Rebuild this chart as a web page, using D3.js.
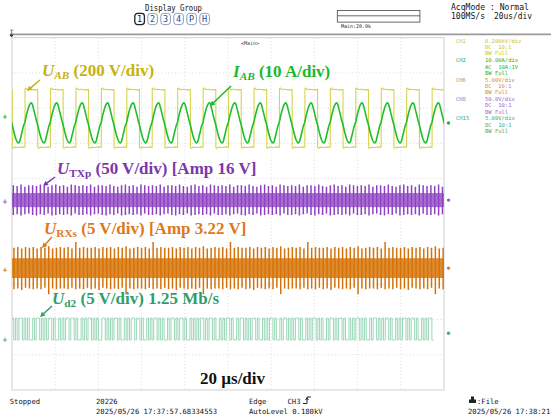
<!DOCTYPE html>
<html>
<head>
<meta charset="utf-8">
<script src="https://cdn.jsdelivr.net/npm/d3@7"></script>
<style>
body { margin: 0; background: #fff; }
svg { display: block; }
</style>
</head>
<body>
<div id="scope"></div>
<script>
var width = 551, height = 418;

// time base 20 us/div, 10 divisions
var timeGrid = [20, 40, 60, 80, 100, 120, 140, 160, 180];
var divGrid = [-4, -3, -2, -1, 0, 1, 2, 3, 4];

// CH1  U_AB square wave (V), one cycle as [phase, value]
var uabPeriod = 11.78, uabFirstRise = 6.0, uabPos = 2.71, uabVdiv = 200;
var uabCycle = [[0, -158], [0.003, 168], [0.04, 172], [0.09, 163], [0.2, 165], [0.35, 162], [0.497, 163],
                [0.5, 160], [0.503, -166], [0.54, -170], [0.6, -163], [0.75, -165], [0.9, -162], [0.997, -163]];

// CH2  I_AB (A)
var iabPos = 2.58, iabAdiv = 10;
var iabCycle = [[0, 0.3], [0.05, 2.0], [0.1, 3.4], [0.15, 4.6], [0.2, 5.4], [0.25, 5.7], [0.29, 5.3],
                [0.33, 4.2], [0.38, 2.8], [0.44, 1.0], [0.5, -0.6], [0.55, -2.1], [0.6, -3.5],
                [0.65, -4.7], [0.7, -5.4], [0.75, -5.7], [0.79, -5.3], [0.83, -4.2], [0.88, -2.7], [0.94, -0.9]];

// CH8  U_TXp (V): core band and spike peaks
var txpPos = 0.39, txpVdiv = 50, txpCore = 10, txpSpikePeriod = 1.79, txpFirst = 0.6;
var txpSpikes = [21, 20, 22, 19, 21, 21, 20, 22, 20, 19, 21, 22, 20, 21, 19, 22, 21, 20];

// CH6  U_RXs (V)
var rxsPos = -1.54, rxsVdiv = 5, rxsCore = 1.4, rxsSpikePeriod = 1.79, rxsFirst = 0.9;
var rxsSpikes = [2.9, 3.0, 2.8, 3.0, 2.9, 3.0, 2.8, 3.0, 2.9, 3.1, 2.8, 2.9, 3.0, 2.9, 3.0, 2.8, 3.7, 2.9, 3.0, 2.9];

// CH15 U_d2 (V) 1.25 Mb/s bit stream
var ud2Pos = -3.58, ud2Vdiv = 5, ud2High = 3.1, bitTime = 0.8;
var ud2Bits = "1010110101001011010101101001010110110100101011010100110101011010010101101101001010110101001011010110100101010110101101001010110100101101010110100101011010010110101011010010101101010010110101101001010110101001011010101101001010110101101001010110";

// channel readouts
var chNames = ["CH1", "CH2", "CH6", "CH8", "CH15"];
var chLines = [["0.200kV/div", "DC  10:1", "BW Full"],
               ["10.00A/div", "AC  10A:1V", "BW Full"],
               ["5.00V/div", "DC  10:1", "BW Full"],
               ["50.0V/div", "DC  10:1", "BW Full"],
               ["5.00V/div", "DC  10:1", "BW Full"]];
var chColors = ["#cfc418", "#1fae34", "#de8432", "#a068cc", "#48a472"];

var groupButtons = ["1", "2", "3", "4", "P", "H"];
var leftMarks = [2.75, 0.34, -1.6, -3.58];
var rightMarks = [2.58, 0.39, -1.54, -3.39];
var markColors = ["#22b43a", "#9b55c8", "#dc7a18", "#4fa878"];

// bottom status texts
var statusTexts = [
    ["Stopped", 9.8, 403.5], ["20226", 96, 403.5], ["2025/05/26 17:37:57.68334553", 96, 414],
    ["Edge", 249, 403.5], ["CH3", 287.5, 403.5], ["AutoLevel 0.180kV", 249, 414],
    [":File", 477, 403.5], ["2025/05/26 17:38:21", 468, 414]
];

var svg = d3.select("#scope").append("svg")
    .attr("width", width)
    .attr("height", height);

var plot = {l: 12, t: 37.7, r: 444, b: 390};
var x = d3.scaleLinear().domain([0, 200]).range([plot.l, plot.r]);
var y = d3.scaleLinear().domain([-5, 5]).range([plot.b, plot.t]);

var mono = "'DejaVu Sans Mono', monospace";
var serif = "'Liberation Serif', 'Times New Roman', serif";

svg.append("defs").append("clipPath").attr("id", "clip")
    .append("rect")
    .attr("x", plot.l).attr("y", plot.t)
    .attr("width", plot.r - plot.l).attr("height", plot.b - plot.t);

// header
svg.append("text").text("Display Group")
    .attr("x", 145).attr("y", 11)
    .attr("font-family", mono).attr("font-size", 9)
    .attr("textLength", 57).attr("lengthAdjust", "spacingAndGlyphs")
    .attr("fill", "#111");

var btn = svg.append("g").selectAll("g").data(groupButtons).enter().append("g")
    .attr("transform", function(d, i) { return "translate(" + (134.8 + i * 13) + ",13.4)"; });
btn.append("rect")
    .attr("width", 9.6).attr("height", 11.2).attr("rx", 2.8)
    .attr("fill", "#fff")
    .attr("stroke", function(d, i) { return i == 0 ? "#222" : "#7d8fb5"; })
    .attr("stroke-width", function(d, i) { return i == 0 ? 1.3 : 0.9; });
btn.append("text").text(function(d) { return d; })
    .attr("x", 4.8).attr("y", 8.9)
    .attr("text-anchor", "middle")
    .attr("font-family", mono).attr("font-size", 8.5)
    .attr("fill", function(d, i) { return i == 0 ? "#111" : "#2b4c92"; });

svg.append("rect")
    .attr("x", 337.3).attr("y", 10.5).attr("width", 82.6).attr("height", 11.6)
    .attr("fill", "none").attr("stroke", "#444").attr("stroke-width", 0.8);
svg.append("line")
    .attr("x1", 337.3).attr("x2", 419.9).attr("y1", 15.8).attr("y2", 15.8)
    .attr("stroke", "#444").attr("stroke-width", 0.8);
svg.append("text").text("Main:20.0k")
    .attr("x", 341).attr("y", 27.6)
    .attr("font-family", mono).attr("font-size", 5)
    .attr("fill", "#222");

svg.append("text").text("AcqMode : Normal")
    .attr("x", 451).attr("y", 9.8)
    .attr("font-family", mono).attr("font-size", 9)
    .attr("textLength", 78).attr("lengthAdjust", "spacingAndGlyphs")
    .attr("fill", "#111");
svg.append("text").text("100MS/s")
    .attr("x", 451).attr("y", 19.3)
    .attr("font-family", mono).attr("font-size", 9)
    .attr("textLength", 34).attr("lengthAdjust", "spacingAndGlyphs")
    .attr("fill", "#111");
svg.append("text").text("20us/div")
    .attr("x", 494).attr("y", 19.3)
    .attr("font-family", mono).attr("font-size", 9)
    .attr("textLength", 38).attr("lengthAdjust", "spacingAndGlyphs")
    .attr("fill", "#111");

// separator bar and trigger mark
svg.append("line")
    .attr("x1", 10).attr("x2", width).attr("y1", 34.3).attr("y2", 34.3)
    .attr("stroke", "#9a9a9a").attr("stroke-width", 1.8);
svg.append("text").text("T")
    .attr("x", 11.5).attr("y", 34).attr("text-anchor", "middle")
    .attr("font-family", mono).attr("font-size", 6).attr("fill", "#333");
svg.append("path")
    .attr("d", "M9.3,34.5 L13.7,34.5 L11.5,37.5 Z")
    .attr("fill", "#333");

// plot frame and grid
svg.append("rect")
    .attr("x", plot.l).attr("y", plot.t)
    .attr("width", plot.r - plot.l).attr("height", plot.b - plot.t)
    .attr("fill", "#fff").attr("stroke", "#cfcfcf").attr("stroke-width", 1);

var grid = svg.append("g");
grid.selectAll("line.v").data(timeGrid).enter().append("line")
    .attr("class", "v")
    .attr("x1", function(d) { return x(d); }).attr("x2", function(d) { return x(d); })
    .attr("y1", plot.t).attr("y2", plot.b)
    .attr("stroke", "#c8c8c8").attr("stroke-width", 0.8)
    .attr("stroke-dasharray", "0.8,2.6");
grid.selectAll("line.h").data(divGrid).enter().append("line")
    .attr("class", "h")
    .attr("x1", plot.l).attr("x2", plot.r)
    .attr("y1", function(d) { return y(d); }).attr("y2", function(d) { return y(d); })
    .attr("stroke", "#c8c8c8").attr("stroke-width", 0.8)
    .attr("stroke-dasharray", "0.8,2.6");

svg.append("text").text("<Main>")
    .attr("x", 241).attr("y", 44.5)
    .attr("font-family", mono).attr("font-size", 5)
    .attr("fill", "#333");

// waveforms
function cyclePoints(cycle, period, t0) {
    var pts = [];
    var kStart = Math.floor((0 - t0) / period) - 1;
    var kEnd = Math.ceil((200 - t0) / period) + 1;
    for (var k = kStart; k <= kEnd; k++) {
        cycle.forEach(function(p) {
            pts.push([t0 + (k + p[0]) * period, p[1]]);
        });
    }
    return pts;
}

var traces = svg.append("g").attr("clip-path", "url(#clip)");

// U_AB
var uabLine = d3.line()
    .x(function(d) { return x(d[0]); })
    .y(function(d) { return y(uabPos + d[1] / uabVdiv); });
traces.append("path")
    .datum(cyclePoints(uabCycle, uabPeriod, uabFirstRise))
    .attr("d", uabLine)
    .attr("fill", "none").attr("stroke", "#d9d24c").attr("stroke-width", 1.1);

// U_TXp
var txpG = traces.append("g");
txpG.append("rect")
    .attr("x", plot.l).attr("width", plot.r - plot.l)
    .attr("y", y(txpPos + txpCore / txpVdiv))
    .attr("height", y(txpPos - txpCore / txpVdiv) - y(txpPos + txpCore / txpVdiv))
    .attr("fill", "#a76dd1");
var txpT = d3.range(txpFirst, 200, txpSpikePeriod);
txpG.selectAll("line").data(txpT).enter().append("line")
    .attr("x1", function(d) { return x(d); }).attr("x2", function(d) { return x(d); })
    .attr("y1", function(d, i) { return y(txpPos + txpSpikes[i % txpSpikes.length] / txpVdiv); })
    .attr("y2", function(d, i) { return y(txpPos - txpSpikes[(i + 5) % txpSpikes.length] / txpVdiv); })
    .attr("stroke", "#8d43c2").attr("stroke-width", 1.5);

// U_RXs
var rxsG = traces.append("g");
rxsG.append("rect")
    .attr("x", plot.l).attr("width", plot.r - plot.l)
    .attr("y", y(rxsPos + rxsCore / rxsVdiv))
    .attr("height", y(rxsPos - rxsCore / rxsVdiv) - y(rxsPos + rxsCore / rxsVdiv))
    .attr("fill", "#df8a2c");
var rxsT = d3.range(rxsFirst, 200, rxsSpikePeriod);
rxsG.selectAll("line").data(rxsT).enter().append("line")
    .attr("x1", function(d) { return x(d); }).attr("x2", function(d) { return x(d); })
    .attr("y1", function(d, i) { return y(rxsPos + rxsSpikes[i % rxsSpikes.length] / rxsVdiv); })
    .attr("y2", function(d, i) { return y(rxsPos - rxsSpikes[(i + 7) % rxsSpikes.length] / rxsVdiv); })
    .attr("stroke", "#d4730b").attr("stroke-width", 1.5);

// U_d2
var ud2Pts = [];
ud2Bits.split("").forEach(function(b, i) {
    var v = b == "1" ? ud2High : 0;
    ud2Pts.push([i * bitTime, v]);
    ud2Pts.push([(i + 1) * bitTime, v]);
});
traces.append("path")
    .datum(ud2Pts)
    .attr("d", d3.line()
        .x(function(d) { return x(d[0]); })
        .y(function(d) { return y(ud2Pos + d[1] / ud2Vdiv); }))
    .attr("fill", "none").attr("stroke", "#8fd3b0").attr("stroke-width", 0.9);

// I_AB on top
traces.append("path")
    .datum(cyclePoints(iabCycle, uabPeriod, uabFirstRise))
    .attr("d", d3.line().curve(d3.curveCatmullRom)
        .x(function(d) { return x(d[0]); })
        .y(function(d) { return y(iabPos + d[1] / iabAdiv); }))
    .attr("fill", "none").attr("stroke", "#1fbf2c").attr("stroke-width", 1.6);

// channel markers
svg.selectAll("circle.rm").data(rightMarks).enter().append("circle")
    .attr("class", "rm")
    .attr("cx", 448.5).attr("cy", function(d) { return y(d); }).attr("r", 1.7)
    .attr("fill", function(d, i) { return markColors[i]; });
svg.selectAll("path.lm").data(leftMarks).enter().append("path")
    .attr("class", "lm")
    .attr("d", function(d) {
        var yy = y(d);
        return "M3," + yy + "L7," + yy + "M5," + (yy - 2.5) + "L5," + (yy + 2);
    })
    .attr("stroke", function(d, i) { return markColors[i]; })
    .attr("stroke-width", 0.9).attr("fill", "none");

// readout panel
var panel = svg.append("g");
chNames.forEach(function(name, g) {
    var by = 42.8 + g * 19.4;
    panel.append("text").text(name)
        .attr("x", 456).attr("y", by)
        .attr("font-family", mono).attr("font-size", 5.5)
        .attr("fill", chColors[g]);
    chLines[g].forEach(function(line, k) {
        panel.append("text").text(line)
            .attr("x", 485).attr("y", by + k * 6.3)
            .attr("font-family", mono).attr("font-size", 5.5)
            .attr("xml:space", "preserve")
            .attr("fill", chColors[g]);
    });
});

// annotations
var labels = [
    {x: 42, y: 76, color: "#c7b30c", main: "U", sub: "AB", subItalic: true, rest: " (200 V/div)"},
    {x: 233, y: 77, color: "#1cb82c", main: "I", sub: "AB", subItalic: true, rest: " (10 A/div)"},
    {x: 57, y: 174, color: "#7b37ab", main: "U", sub: "TXp", subItalic: false, rest: " (50 V/div) [Amp 16 V]"},
    {x: 44, y: 234, color: "#e0781a", main: "U", sub: "RXs", subItalic: false, rest: " (5 V/div) [Amp 3.22 V]"},
    {x: 52, y: 304, color: "#2e9e6c", main: "U", sub: "d2", subItalic: false, rest: " (5 V/div) 1.25 Mb/s"}
];
var arrows = [[40, 80, 27, 91], [231, 86, 210, 106], [55, 177, 43, 186], [52, 237, 42, 248], [52, 306, 40, 317]];

labels.forEach(function(l, i) {
    var t = svg.append("text")
        .attr("x", l.x).attr("y", l.y)
        .attr("font-family", serif).attr("font-weight", "bold").attr("font-size", 17)
        .attr("fill", l.color)
        .attr("xml:space", "preserve");
    t.append("tspan").text(l.main).attr("font-style", "italic");
    t.append("tspan").text(l.sub)
        .attr("font-size", 11.3).attr("dy", 3.4)
        .attr("font-style", l.subItalic ? "italic" : "normal");
    t.append("tspan").text(l.rest).attr("dy", -3.4);

    var a = arrows[i];
    var ang = Math.atan2(a[3] - a[1], a[2] - a[0]);
    svg.append("line")
        .attr("x1", a[0]).attr("y1", a[1])
        .attr("x2", a[2] + 3 * Math.cos(ang + Math.PI)).attr("y2", a[3] + 3 * Math.sin(ang + Math.PI))
        .attr("stroke", l.color).attr("stroke-width", 1.5);
    var h = 5, w = 2.6;
    var bx = a[2] - h * Math.cos(ang), byy = a[3] - h * Math.sin(ang);
    svg.append("path")
        .attr("d", "M" + a[2] + "," + a[3] +
            "L" + (bx + w * Math.sin(ang)) + "," + (byy - w * Math.cos(ang)) +
            "L" + (bx - w * Math.sin(ang)) + "," + (byy + w * Math.cos(ang)) + "Z")
        .attr("fill", l.color);
});

svg.append("text").text("20 \u00b5s/div")
    .attr("x", 232.5).attr("y", 384).attr("text-anchor", "middle")
    .attr("font-family", serif).attr("font-weight", "bold").attr("font-size", 17)
    .attr("fill", "#111");

// status line
svg.selectAll("text.st").data(statusTexts).enter().append("text")
    .attr("class", "st")
    .text(function(d) { return d[0]; })
    .attr("x", function(d) { return d[1]; }).attr("y", function(d) { return d[2]; })
    .attr("font-family", mono).attr("font-size", 7.2)
    .attr("fill", "#111");
// slope icon + printer icon
svg.append("path")
    .attr("d", "M303,403.5 L307,403.5 L307,397 L311,397 M305.5,400 L307,398 L308.5,400")
    .attr("fill", "none").attr("stroke", "#111").attr("stroke-width", 0.9);
svg.append("path")
    .attr("d", "M469,403 L476,403 L476,399.5 L474,399.5 L474,396.5 L471,396.5 L471,399.5 L469,399.5 Z")
    .attr("fill", "#222");
</script>
</body>
</html>
